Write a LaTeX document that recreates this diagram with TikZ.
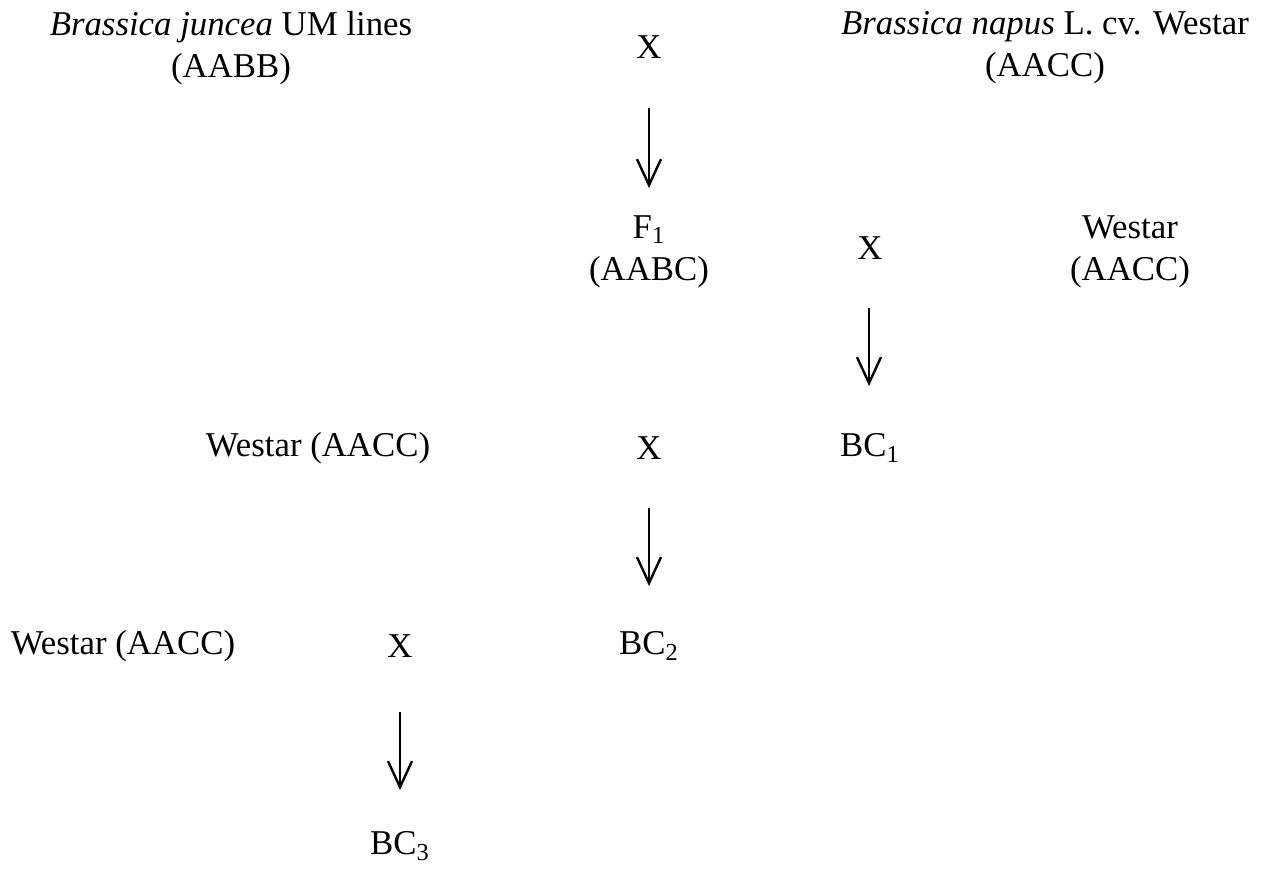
\documentclass[tikz,border=0pt]{standalone}
\usepackage{fontspec}
\setmainfont{Liberation Serif}
\usetikzlibrary{arrows.meta}
\begin{document}
\begin{tikzpicture}[x=0.5pt,y=-0.5pt,
  lbl/.style={inner sep=0pt,align=center,font=\fontsize{17.4}{21}\selectfont},
  arr/.style={line width=1.2pt,-{Straight Barb[length=13pt,width=12pt,line width=1.2pt]}}]
\useasboundingbox (0,0) rectangle (1265,873);
% row 1
\node[lbl] (juncea) at (231,48) {\textit{Brassica juncea} UM lines\\(AABB)};
\node[lbl] (x1) at (649,47) {X};
\node[lbl] (napus) at (1045,48) {\textit{Brassica napus} L. cv. Westar\\(AACC)};
% row 2
\node[lbl] (f1) at (649,252) {F\textsubscript{1}\\(AABC)};
\node[lbl] (x2) at (870,248) {X};
\node[lbl] (w1) at (1130,252) {Westar\\(AACC)};
% row 3
\node[lbl] (w2) at (318,448) {Westar (AACC)};
\node[lbl] (x3) at (649,448) {X};
\node[lbl] (bc1) at (870,448) {BC\textsubscript{1}};
% row 4
\node[lbl] (w3) at (123,646) {Westar (AACC)};
\node[lbl] (x4) at (400,646) {X};
\node[lbl] (bc2) at (649,646) {BC\textsubscript{2}};
% row 5
\node[lbl] (bc3) at (400,846) {BC\textsubscript{3}};
% arrows
\coordinate (a1s) at (649,108); \coordinate (a1e) at (649,188);
\coordinate (a2s) at (869,308); \coordinate (a2e) at (869,386);
\coordinate (a3s) at (649,508); \coordinate (a3e) at (649,586);
\coordinate (a4s) at (400,712); \coordinate (a4e) at (400,790);
\draw[arr] (a1s) -- (a1e);
\draw[arr] (a2s) -- (a2e);
\draw[arr] (a3s) -- (a3e);
\draw[arr] (a4s) -- (a4e);
\end{tikzpicture}
\end{document}
